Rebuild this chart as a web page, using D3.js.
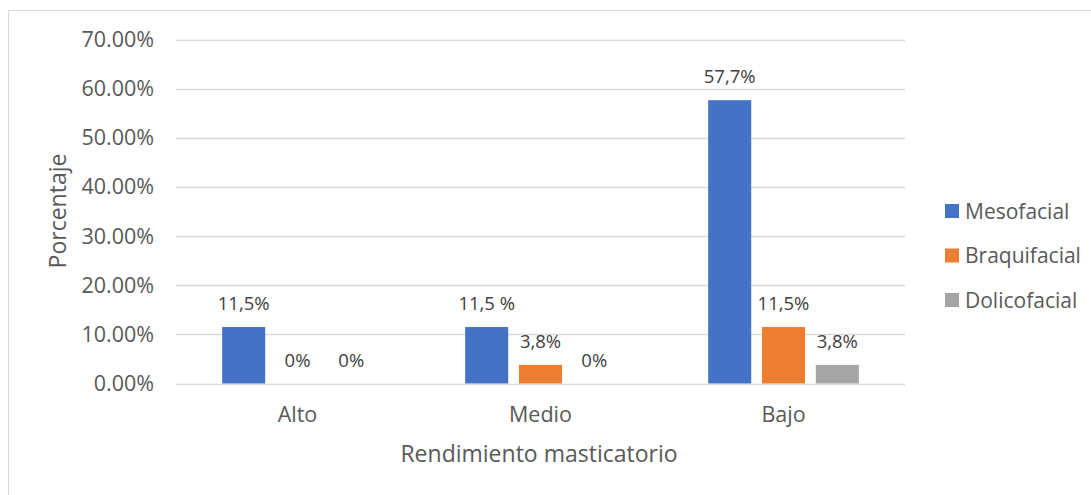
<!DOCTYPE html>
<html><head><meta charset="utf-8">
<script src="https://cdn.jsdelivr.net/npm/d3@7"></script>
<style>body{margin:0;background:#fff;} svg{display:block;}</style>
</head><body>
<svg id="c" width="1091" height="495"></svg>
<script>
const categories = ["Alto", "Medio", "Bajo"];
const seriesNames = ["Mesofacial", "Braquifacial", "Dolicofacial"];
const mesofacial = [0.115, 0.115, 0.577];
const braquifacial = [0, 0.038, 0.115];
const dolicofacial = [0, 0, 0.038];
const labelsMeso = ["11,5%", "11,5 %", "57,7%"];
const labelsBraq = ["0%", "3,8%", "11,5%"];
const labelsDoli = ["0%", "0%", "3,8%"];
const yTicks = [0, 0.1, 0.2, 0.3, 0.4, 0.5, 0.6, 0.7];
const colors = ["#4472C4", "#ED7D31", "#A5A5A5"];

const series = [mesofacial, braquifacial, dolicofacial];
const labels = [labelsMeso, labelsBraq, labelsDoli];
const font = "'Open Sans', sans-serif";
const svg = d3.select("#c");

svg.append("line").attr("x1", 8.5).attr("x2", 1091).attr("y1", 10.5).attr("y2", 10.5).attr("stroke", "#d9d9d9");
svg.append("line").attr("x1", 8.5).attr("x2", 8.5).attr("y1", 10.5).attr("y2", 495).attr("stroke", "#d9d9d9");

const L = 176, R = 905, T = 39.8, B = 383.5;
const y = d3.scaleLinear().domain([0, 0.7]).range([B, T]);
const x0 = d3.scaleBand().domain(categories).range([L, R]).paddingInner(0.38).paddingOuter(0.19);
const x1 = d3.scaleBand().domain(seriesNames).range([0, x0.bandwidth()]).paddingInner(0.2);

const g = svg.append("g");
g.selectAll("line.grid").data(yTicks).enter().append("line")
  .attr("x1", L).attr("x2", R).attr("y1", d => Math.round(y(d)) + 0.5).attr("y2", d => Math.round(y(d)) + 0.5)
  .attr("stroke", "#d9d9d9").attr("stroke-width", 1.5);

const yAxis = d3.axisLeft(y).tickValues(yTicks).tickFormat(d3.format(".2%")).tickSize(0).tickPadding(22);
const ya = svg.append("g").attr("transform", `translate(${L},0)`).call(yAxis);
ya.select(".domain").remove();
ya.selectAll("text").attr("font-family", font).attr("font-size", 21.5).attr("fill", "#595959");

const xAxis = d3.axisBottom(x0).tickSize(0).tickPadding(23);
const xa = svg.append("g").attr("transform", `translate(0,${B})`).call(xAxis);
xa.select(".domain").remove();
xa.selectAll("text").attr("font-family", font).attr("font-size", 21.5).attr("fill", "#595959");

seriesNames.forEach((s, si) => {
  const gg = svg.append("g");
  gg.selectAll("rect").data(categories).enter().append("rect")
    .attr("x", c => x0(c) + x1(s)).attr("width", x1.bandwidth())
    .attr("y", (c, i) => y(series[si][i])).attr("height", (c, i) => B - y(series[si][i]))
    .attr("fill", colors[si]);
  gg.selectAll("text").data(categories).enter().append("text")
    .attr("x", c => x0(c) + x1(s) + x1.bandwidth() / 2)
    .attr("y", (c, i) => y(series[si][i]) - 17)
    .attr("text-anchor", "middle").attr("font-family", font).attr("font-size", 18.5).attr("fill", "#404040")
    .text((c, i) => labels[si][i]);
});

svg.append("text").attr("x", 539).attr("y", 462).attr("text-anchor", "middle")
  .attr("font-family", font).attr("font-size", 23).attr("fill", "#595959").text("Rendimiento masticatorio");
svg.append("text").attr("transform", "translate(66,211) rotate(-90)").attr("text-anchor", "middle")
  .attr("font-family", font).attr("font-size", 23).attr("fill", "#595959").text("Porcentaje");

const leg = svg.append("g");
seriesNames.forEach((s, i) => {
  const yy = 211 + i * 44.5;
  leg.append("rect").attr("x", 945).attr("y", yy - 7).attr("width", 14).attr("height", 14).attr("fill", colors[i]);
  leg.append("text").attr("x", 965).attr("y", yy + 7.5).attr("font-family", font).attr("font-size", 21)
    .attr("fill", "#595959").text(s);
});
</script>
</body></html>
